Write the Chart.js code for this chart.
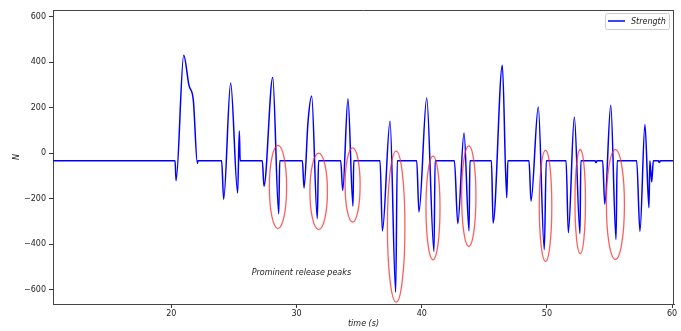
<!DOCTYPE html>
<html>
<head>
<meta charset="utf-8">
<script src="https://cdn.jsdelivr.net/npm/chart.js@4.4.0/dist/chart.umd.min.js"></script>
<style>
  html, body { margin: 0; padding: 0; background: #fff; }
</style>
</head>
<body>
<canvas id="chart" width="681" height="331"></canvas>
<script>
const times = [
  10.5, 20.30, 20.38, 20.99, 21.41, 21.76, 22.08, 22.12,
  24.02, 24.18, 24.74, 25.30, 25.43, 25.50,
  27.27, 27.40, 28.10, 28.58, 28.66,
  30.47, 30.60, 30.92, 31.21, 31.66, 31.76,
  33.53, 33.69, 34.11, 34.51, 34.57,
  36.67, 36.86, 37.47, 37.92, 38.05,
  39.60, 39.78, 40.40, 40.98, 41.07,
  42.61, 42.88, 43.38, 43.78, 43.85,
  45.57, 45.70, 46.44, 46.79, 46.88,
  48.57, 48.73, 49.31, 49.79, 49.95,
  51.53, 51.71, 52.19, 52.64, 52.71,
  53.84, 53.92, 54.00,
  54.45, 54.62, 55.10, 55.52, 55.61,
  57.17, 57.43, 57.83, 58.15, 58.22, 58.37, 58.50,
  58.90, 58.98, 59.06, 60.3
];
const strength = [
  -33, -33, -120, 431, 299, 233, -44, -33,
  -33, -202, 309, -174, 98, -33,
  -33, -144, 333, -265, -33,
  -33, -152, 140, 252, -287, -33,
  -33, -163, 240, -232, -33,
  -33, -341, 141, -610, -33,
  -33, -258, 243, -431, -33,
  -33, -309, 89, -341, -33,
  -33, -306, 387, -195, -33,
  -33, -210, 204, -423, -33,
  -33, -349, 160, -353, -33,
  -33, -41, -33,
  -33, -224, 211, -379, -33,
  -33, -343, 127, -239, -33, -126, -33,
  -33, -40, -33, -33
];

const xTicks = [20, 30, 40, 50, 60];
const yTicks = [-600, -400, -200, 0, 200, 400, 600];

// release peaks marked with ellipses (data units)
const peakTimes = [28.52, 31.77, 34.48, 37.96, 40.90, 43.76, 49.89, 52.66, 55.47];
const peakMid = [-148, -167, -139, -322, -240, -188, -231, -212, -225];
const peakHalfSpan = [0.69, 0.70, 0.60, 0.70, 0.56, 0.57, 0.50, 0.42, 0.72];
const peakHalfRange = [183, 168, 163, 332, 228, 221, 244, 229, 241];

const noteText = "Prominent release peaks";
const noteAt = [26.42, -527];

const FONT = "DejaVu Sans";
const fmt = v => String(v).replace("-", "\u2212");

const decor = {
  id: "decor",
  afterDatasetsDraw(chart) {
    const { ctx, chartArea: a, scales: { x, y } } = chart;

    // ellipses
    ctx.save();
    ctx.beginPath();
    ctx.rect(a.left, a.top, a.right - a.left, a.bottom - a.top);
    ctx.clip();
    ctx.strokeStyle = "rgba(255,40,40,0.75)";
    ctx.lineWidth = 1.3;
    peakTimes.forEach((t, i) => {
      const cx = x.getPixelForValue(t);
      const cy = y.getPixelForValue(peakMid[i]);
      const rx = x.getPixelForValue(t + peakHalfSpan[i]) - cx;
      const ry = y.getPixelForValue(peakMid[i] - peakHalfRange[i]) - cy;
      ctx.beginPath();
      ctx.ellipse(cx, cy, rx, ry, 0, 0, Math.PI * 2);
      ctx.stroke();
    });
    ctx.restore();

    // note
    ctx.save();
    ctx.font = "italic 8px '" + FONT + "'";
    ctx.fillStyle = "#222";
    ctx.textBaseline = "middle";
    ctx.fillText(noteText, x.getPixelForValue(noteAt[0]), y.getPixelForValue(noteAt[1]));

    // top / right spines
    ctx.strokeStyle = "#444";
    ctx.lineWidth = 1;
    ctx.beginPath();
    ctx.moveTo(a.left, a.top + 0.5);
    ctx.lineTo(a.right, a.top + 0.5);
    ctx.moveTo(a.right - 0.5, a.top);
    ctx.lineTo(a.right - 0.5, a.bottom);
    ctx.stroke();

    // axis titles
    ctx.textAlign = "center";
    ctx.fillText("time (s)", (a.left + a.right) / 2, 323.5);
    ctx.translate(17, (a.top + a.bottom) / 2);
    ctx.rotate(-Math.PI / 2);
    ctx.fillText("N", 0, 0);
    ctx.restore();

    // legend
    ctx.save();
    const ds = chart.data.datasets[0];
    ctx.strokeStyle = "#ccc";
    ctx.lineWidth = 1;
    ctx.beginPath();
    ctx.roundRect(605.5, 13.5, 64, 16, 2);
    ctx.fillStyle = "rgba(255,255,255,0.8)";
    ctx.fill();
    ctx.stroke();
    ctx.strokeStyle = ds.borderColor;
    ctx.lineWidth = 1.5;
    ctx.beginPath();
    ctx.moveTo(608, 21);
    ctx.lineTo(625, 21);
    ctx.stroke();
    ctx.font = "italic 8px '" + FONT + "'";
    ctx.fillStyle = "#222";
    ctx.textBaseline = "middle";
    ctx.fillText(ds.label, 631, 21.5);
    ctx.restore();
  }
};

const tickStyle = { font: { family: FONT, size: 8 }, color: "#222" };

new Chart(document.getElementById("chart"), {
  type: "line",
  data: {
    datasets: [{
      label: "Strength",
      data: times.map((t, i) => ({ x: t, y: strength[i] })),
      borderColor: "#0000ff",
      borderWidth: 1.5,
      pointRadius: 0,
      cubicInterpolationMode: "monotone",
      fill: false
    }]
  },
  options: {
    responsive: false,
    animation: false,
    devicePixelRatio: 1,
    layout: { padding: { top: 10, right: 7, left: 0, bottom: 0 } },
    plugins: { legend: { display: false }, tooltip: { enabled: false } },
    scales: {
      x: {
        type: "linear",
        min: 10.55,
        max: 60.15,
        afterBuildTicks: s => { s.ticks = xTicks.map(v => ({ value: v })); },
        afterFit: s => { s.height = 27; },
        grid: { drawOnChartArea: false, tickLength: 4, tickColor: "#333" },
        border: { color: "#444", width: 1 },
        ticks: { ...tickStyle, padding: 1, maxRotation: 0, autoSkip: false }
      },
      y: {
        type: "linear",
        min: -662,
        max: 630,
        afterBuildTicks: s => { s.ticks = yTicks.map(v => ({ value: v })); },
        afterFit: s => { s.width = 53; },
        grid: { drawOnChartArea: false, tickLength: 4, tickColor: "#333" },
        border: { color: "#444", width: 1 },
        ticks: { ...tickStyle, padding: 3, callback: fmt }
      }
    }
  },
  plugins: [decor]
});
</script>
</body>
</html>
